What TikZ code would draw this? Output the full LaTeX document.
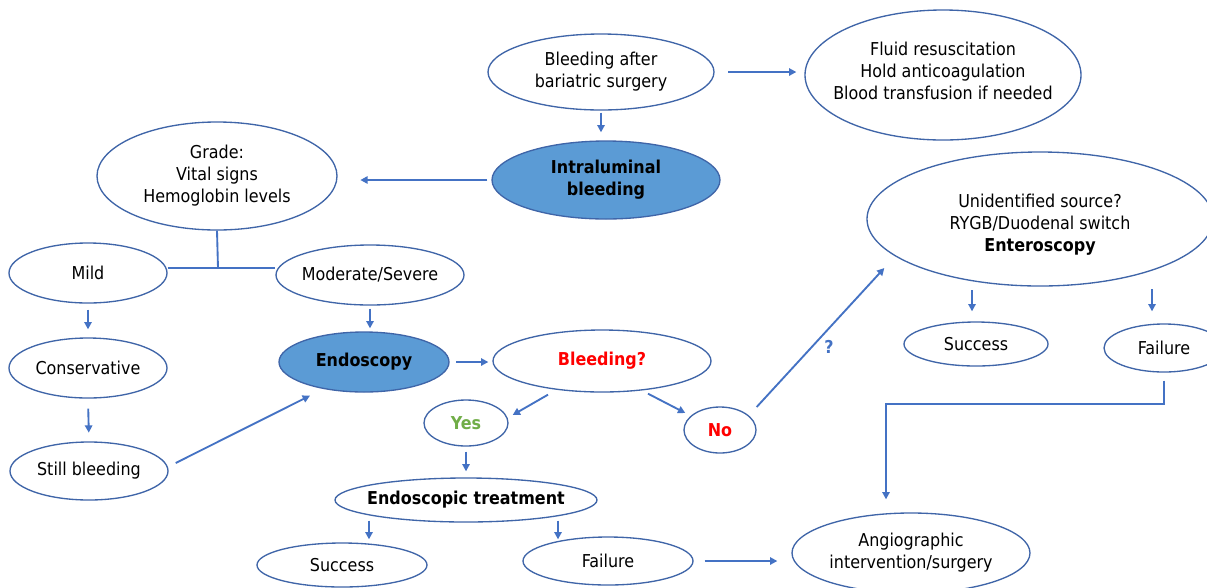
\documentclass[tikz,border=0pt]{standalone}
\usepackage{fontspec}
\setmainfont{DejaVu Sans Condensed}
\usetikzlibrary{shapes.geometric,arrows.meta,calc}
\definecolor{ellc}{HTML}{3F65A8}
\definecolor{arrc}{HTML}{4472C4}
\definecolor{fillc}{HTML}{5B9BD5}
\definecolor{redc}{HTML}{FF0000}
\definecolor{greenc}{HTML}{70AD47}
\begin{document}
\begin{tikzpicture}[x=0.75pt,y=-0.75pt,
  font=\fontsize{13.3pt}{16.5pt}\selectfont,
  ell/.style={ellipse,draw=ellc,line width=1pt,inner xsep=-12pt,inner ysep=0pt,align=center},
  filled/.style={ell,fill=fillc},
  arr/.style={draw=arrc,line width=1.4pt,-{Triangle[length=5.5pt,width=5.5pt]}},
  ln/.style={draw=arrc,line width=1.4pt}]
\useasboundingbox (0,0) rectangle (1207,587);
\clip (0,0) rectangle (1207,587);
\fill[white] (0,0) rectangle (1207,587);

% nodes
\node[ell,minimum width=169.5pt,minimum height=57pt] (ba) at (601,72) {Bleeding after\\bariatric surgery};
\node[ell,minimum width=207pt,minimum height=97.5pt,text depth=6pt] (fl) at (943,75) {Fluid resuscitation\\Hold anticoagulation\\Blood transfusion if needed};
\node[filled,minimum width=171pt,minimum height=58.5pt] (ib) at (606,180) {\textbf{Intraluminal}\\\textbf{bleeding}};
\node[ell,minimum width=180pt,minimum height=81pt] (gr) at (217,176) {Grade:\\Vital signs\\Hemoglobin levels};
\node[ell,minimum width=118.5pt,minimum height=45pt] (mild) at (88,273) {Mild};
\node[ell,minimum width=141pt,minimum height=45pt] (mod) at (370,275) {Moderate/Severe};
\node[ell,minimum width=118.5pt,minimum height=45pt] (cons) at (88,368) {Conservative};
\node[ell,minimum width=118.5pt,minimum height=43.5pt] (still) at (89,471) {Still bleeding};
\node[filled,minimum width=127.5pt,minimum height=45pt] (endo) at (364,362) {\textbf{Endoscopy}};
\node[ell,minimum width=163.5pt,minimum height=46.5pt] (bq) at (602,361) {\textcolor{redc}{\textbf{Bleeding?}}};
\node[ell,minimum width=63pt,minimum height=34.5pt] (yes) at (466,423) {\textcolor{greenc}{\textbf{Yes}}};
\node[ell,minimum width=54pt,minimum height=34.5pt] (no) at (720,430) {\textcolor{redc}{\textbf{No}}};
\node[ell,minimum width=196.5pt,minimum height=33pt] (et) at (466,500) {\textbf{Endoscopic treatment}};
\node[ell,minimum width=127.5pt,minimum height=33pt] (s1) at (342,565) {Success};
\node[ell,minimum width=127.5pt,minimum height=36pt] (f1) at (608,561) {Failure};
\node[ell,minimum width=178.5pt,minimum height=60pt] (ang) at (911,553) {Angiographic\\intervention/surgery};
\node[ell,minimum width=259.5pt,minimum height=100.5pt,text height=52pt] (un) at (1040,219) {Unidentified source?\\RYGB/Duodenal switch\\\textbf{Enteroscopy}};
\node[ell,minimum width=108pt,minimum height=33pt] (s2) at (976,344) {Success};
\node[ell,minimum width=90pt,minimum height=36pt] (f2) at (1164,348) {Failure};
\node[text=arrc,font=\fontsize{13.3pt}{16pt}\selectfont\bfseries] (q) at (829,347) {?};

% connectors
\draw[arr,shorten <=10pt,shorten >=6pt] (ba.east) -- (ba.east -| fl.west);
\draw[arr,shorten <=1.5pt,shorten >=6pt] (ba.south) -- (ba.south |- ib.north);
\draw[arr,shorten <=3pt,shorten >=17pt] (ib.west) -- (ib.west -| gr.east);
\coordinate (j) at (218,268);
\draw[ln] (gr.south) -- (j);
\draw[ln] (j -| mild.east) -- (j -| mod.west);
\draw[arr,shorten <=4.5pt,shorten >=6pt] (mild.south) -- (cons.north);
\draw[arr,shorten <=7.5pt,shorten >=6.5pt] (cons.south) -- (still.north);
\draw[arr,shorten <=2.25pt,shorten >=2.25pt] (mod.south) -- (mod.south |- endo.north);
\draw[arr] ($(still.east)+(7,-8)$) -- ($(endo.south)+(-54,3)$);
\draw[arr,shorten <=5pt,shorten >=3pt] (endo.east) -- (endo.east -| bq.west);
\draw[arr] ($(bq.south)+(-54,2)$) -- ($(yes.east)+(4,-8)$);
\draw[arr] ($(bq.south)+(46,1)$) -- ($(no.west)+(2,-17)$);
\draw[arr,shorten <=3.75pt,shorten >=4.5pt] (yes.south) -- (et.north);
\draw[arr] ($(et.south)+(-97,-2)$) -- ($(s1.north)+(27,-3)$);
\draw[arr] ($(et.south)+(92,-2)$) -- ($(f1.north)+(-50,3)$);
\draw[arr,shorten <=8.25pt,shorten >=10.5pt] (f1.east) -- (f1.east -| ang.west);
\draw[arr] ($(no.east)+(0,-23)$) -- ($(un.west)+(18,49)$);
\draw[arr] ($(s2.north)+(-4,-31)$) -- ($(s2.north)+(-4,-10)$);
\draw[arr] ($(f2.north)+(-12,-34)$) -- ($(f2.north)+(-12,-12)$);
\draw[arr] ($(f2.south)+(0,8)$) -- ++(0,23) -| ($(ang.north)+(-25,-13)$);
\end{tikzpicture}
\end{document}
